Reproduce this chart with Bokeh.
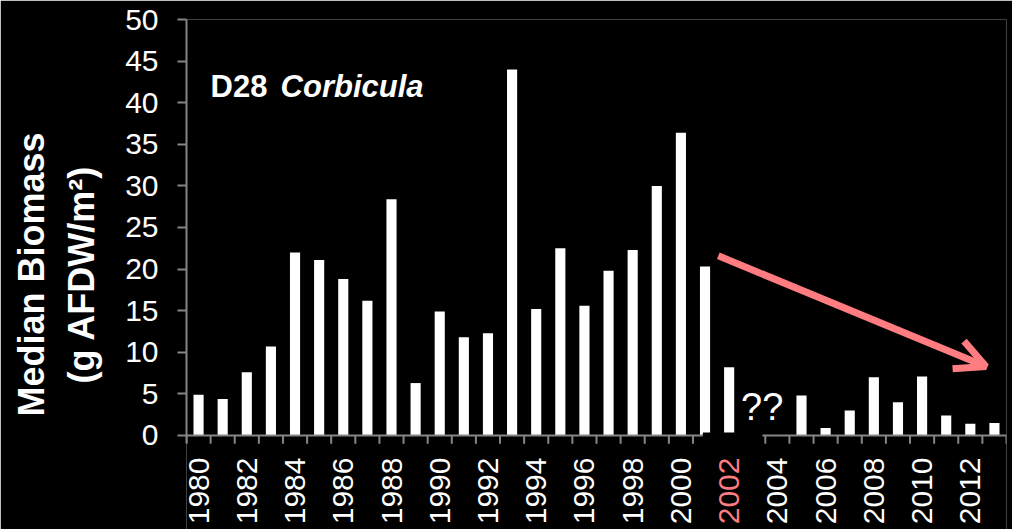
from bokeh.plotting import figure
from bokeh.models import FixedTicker, Arrow, OpenHead, ColumnDataSource
from bokeh.embed import file_html
from bokeh.resources import INLINE
from bokeh.core.properties import value

# ---- data ----
years = list(range(1980, 2014))
biomass = [4.9, 4.4, 7.6, 10.7, 22.0, 21.1, 18.8, 16.2, 28.4, 6.3,
           14.9, 11.8, 12.3, 44.0, 15.2, 22.5, 15.6, 19.8, 22.3, 30.0,
           36.4, 20.3, 8.2, None, None, 4.8, 0.9, 3.0, 7.0, 4.0,
           7.1, 2.4, 1.4, 1.5]
y_ticks = list(range(0, 55, 5))
label_years = years[::2]
highlight_year = 2002
missing_note = "??"
title_site = "D28"
title_taxon = "Corbicula"
y_title = "Median Biomass\n(g AFDW/m\u00b2)"

FONT = "Liberation Sans"
GRAY = "#868686"
SALMON = "#FF7C80"

n = len(years)
pos = {yr: i + 0.5 for i, yr in enumerate(years)}
bx = [pos[yr] for yr, v in zip(years, biomass) if v is not None]
bt = [v for v in biomass if v is not None]

p = figure(width=1012, height=529, output_backend="svg", toolbar_location=None,
           x_range=(0, n), y_range=(-11.3, 50), x_axis_location=None,
           min_border_left=186, min_border_top=19, min_border_bottom=0,
           min_border_right=6)
p.background_fill_color = "black"
p.border_fill_color = "black"
p.outline_line_color = None
p.xgrid.visible = False
p.ygrid.visible = False

# bars
p.vbar(x=bx, top=bt, bottom=0, width=0.42, fill_color="white", line_color=None)

# x baseline and category-boundary ticks
p.segment(x0=[0], y0=[0], x1=[n], y1=[0], line_color=GRAY, line_width=2)
bounds = list(range(0, n + 1))
p.segment(x0=bounds, y0=[0] * len(bounds), x1=bounds, y1=[-1.0] * len(bounds),
          line_color=GRAY, line_width=2)

# pasted patch hiding the baseline around 2001-2003
i01 = years.index(2001)
i04 = years.index(2004)
p.quad(left=[i01 + 0.41], right=[i04 - 0.12], bottom=[-1.1], top=[0.35],
       fill_color="black", line_color=None)

# x tick labels (every other year, 2002 highlighted)
lab_src = ColumnDataSource(dict(
    x=[pos[yr] for yr in label_years],
    y=[-2.65] * len(label_years),
    text=[str(yr) for yr in label_years],
    color=[SALMON if yr == highlight_year else "white" for yr in label_years],
))
p.text(x="x", y="y", text="text", source=lab_src, angle=1.5707963,
       text_align="right", text_baseline="middle", text_color="color",
       text_font=value(FONT), text_font_size="30px")

# y axis
ya = p.yaxis[0]
ya.ticker = FixedTicker(ticks=y_ticks)
ya.bounds = (-1.0, 50)
ya.axis_line_color = GRAY
ya.axis_line_width = 2
ya.major_tick_line_color = GRAY
ya.major_tick_line_width = 2
ya.major_tick_out = 9
ya.major_tick_in = 0
ya.minor_tick_line_color = None
ya.major_label_text_color = "white"
ya.major_label_text_font = FONT
ya.major_label_text_font_size = "30px"
ya.major_label_standoff = 19
ya.axis_label = y_title
ya.axis_label_text_color = "white"
ya.axis_label_text_font = FONT
ya.axis_label_text_font_style = "bold"
ya.axis_label_text_font_size = "36px"
ya.axis_label_text_line_height = 1.22
ya.axis_label_standoff = 20

# title
p.text(x=[1.0], y=[41.9], text=[title_site], text_color="white",
       text_font=value(FONT), text_font_size="31px", text_font_style="bold",
       text_baseline="middle")
p.text(x=[1.0], y=[41.9], text=[title_taxon], x_offset=70, text_color="white",
       text_font=value(FONT), text_font_size="31px",
       text_font_style="bold italic", text_baseline="middle")

# missing-data note
p.text(x=[years.index(2003) + 0.87], y=[3.4], text=[missing_note],
       text_color="white", text_font=value(FONT), text_font_size="38px",
       text_align="center", text_baseline="middle")

# trend arrow
p.add_layout(Arrow(end=OpenHead(line_color=SALMON, line_width=7, size=30),
                   x_start=22.05, y_start=21.6, x_end=33.15, y_end=8.3,
                   line_color=SALMON, line_width=7))

open("out.html", "w").write(file_html(p, INLINE))
